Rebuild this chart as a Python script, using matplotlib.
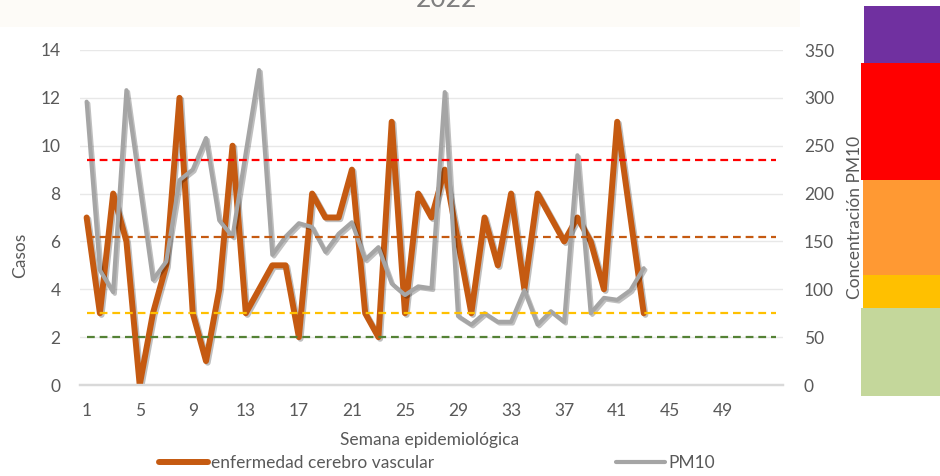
import matplotlib.pyplot as plt
import matplotlib.patheffects as pe
from matplotlib.patches import Rectangle
from matplotlib.lines import Line2D
import numpy as np

plt.rcParams['font.family'] = ['Lato', 'DejaVu Sans']

# semanas epidemiológicas 2022 (eje de categorías 1-53)
semanas = np.arange(1, 54)
casos = [7, 3, 8, 6, 0, 3, 5, 12, 3, 1, 4, 10, 3, 4, 5, 5, 2, 8, 7, 7, 9, 3,
         2, 11, 3, 8, 7, 9, 6, 3, 7, 5, 8, 4, 8, 7, 6, 7, 6, 4, 11, 7, 3]
pm10 = [296, 120, 97, 308, 209, 110, 129, 214, 225, 258, 172, 155, 243, 329,
        136, 155, 169, 165, 139, 158, 170, 131, 144, 106, 94, 103, 101, 306,
        72, 63, 75, 66, 66, 99, 63, 77, 66, 240, 75, 91, 89, 99, 122]

# umbrales de PM10 (líneas punteadas)
umbrales = [50, 75, 155, 235]
colores_umbral = ['#548235', '#ffc000', '#c55a11', '#ff0000']

gris_txt = '#595959'
W, H = 940, 476

fig = plt.figure(figsize=(W / 100, H / 100), dpi=100)

# franja superior tenue
fig.patches.append(Rectangle((0, 1 - 27 / H), 800 / W, 27 / H, transform=fig.transFigure,
                             facecolor='#fdfbf7', edgecolor='none', zorder=0))

ax = fig.add_axes([80 / W, 1 - 385 / H, (783 - 80) / W, 335 / H])
ax2 = ax.twinx()

sombra = [pe.SimpleLineShadow(offset=(1.2, -1.2), alpha=0.25), pe.Normal()]

ax.plot(semanas[:len(casos)], casos, color='#c55a11', lw=4.3,
        solid_joinstyle='round', solid_capstyle='round', path_effects=sombra)
ax2.plot(semanas[:len(pm10)], pm10, color='#a5a5a5', lw=3,
         solid_joinstyle='round', solid_capstyle='round', path_effects=sombra)
for val, col in zip(umbrales, colores_umbral):
    ax2.plot(semanas, [val] * len(semanas), color=col, lw=1.6, ls=(0, (3.5, 2.2)))

ax.set_xlim(0.5, 53.5)
ax.set_ylim(0, 14)
ax2.set_ylim(0, 350)
ax.set_xticks(np.arange(1, 50, 4))
ax.set_yticks(range(0, 15, 2))
ax2.set_yticks(range(0, 351, 50))

ax.set_axisbelow(True)
ax.grid(axis='y', color='#e8e8e8', lw=1)
for a in (ax, ax2):
    for s in ('top', 'left', 'right'):
        a.spines[s].set_visible(False)
    a.spines['bottom'].set_color('#d9d9d9')
    a.spines['bottom'].set_linewidth(1.6)
    a.tick_params(length=0, labelcolor=gris_txt, labelsize=12.5)
ax.tick_params(axis='y', pad=14)
ax.tick_params(axis='x', pad=13)
ax2.tick_params(axis='y', pad=15)

fig.text(446 / W, 1 - 7 / H, '2022', ha='center', va='baseline', fontsize=19, color='#7f7f7f')
fig.text(20 / W, 1 - 255 / H, 'Casos', rotation=90, ha='center', va='center',
         fontsize=12.5, color=gris_txt)
fig.text(430 / W, 1 - 440 / H, 'Semana epidemiológica', ha='center', va='center',
         fontsize=12.5, color=gris_txt)

# bloques de color de la escala de calidad del aire
bloques = [(864, 6, 63, '#7030a0'), (861, 63, 180, '#ff0000'), (863, 180, 275, '#ff9933'),
           (863, 275, 308, '#ffc000'), (861, 308, 396, '#c4d79b')]
for x0, y0, y1, col in bloques:
    fig.patches.append(Rectangle((x0 / W, 1 - y1 / H), (W - x0) / W, (y1 - y0) / H,
                                 transform=fig.transFigure, facecolor=col,
                                 edgecolor='none', zorder=1))
fig.text(855 / W, 1 - 217 / H, 'Concentración PM10', rotation=90, ha='center', va='center',
         fontsize=12.5, color=gris_txt, zorder=5)

handles = [Line2D([], [], color='#c55a11', lw=4.3, solid_capstyle='round'),
           Line2D([], [], color='#a5a5a5', lw=3, solid_capstyle='round')]
fig.legend(handles, ['enfermedad cerebro vascular', 'PM10'], loc='center',
           bbox_to_anchor=(437 / W, 1 - 463 / H), ncol=2, frameon=False,
           handlelength=2.8, handletextpad=0.2, columnspacing=10.5,
           fontsize=12.5, labelcolor=gris_txt)

fig.savefig('out.png', dpi=100)
